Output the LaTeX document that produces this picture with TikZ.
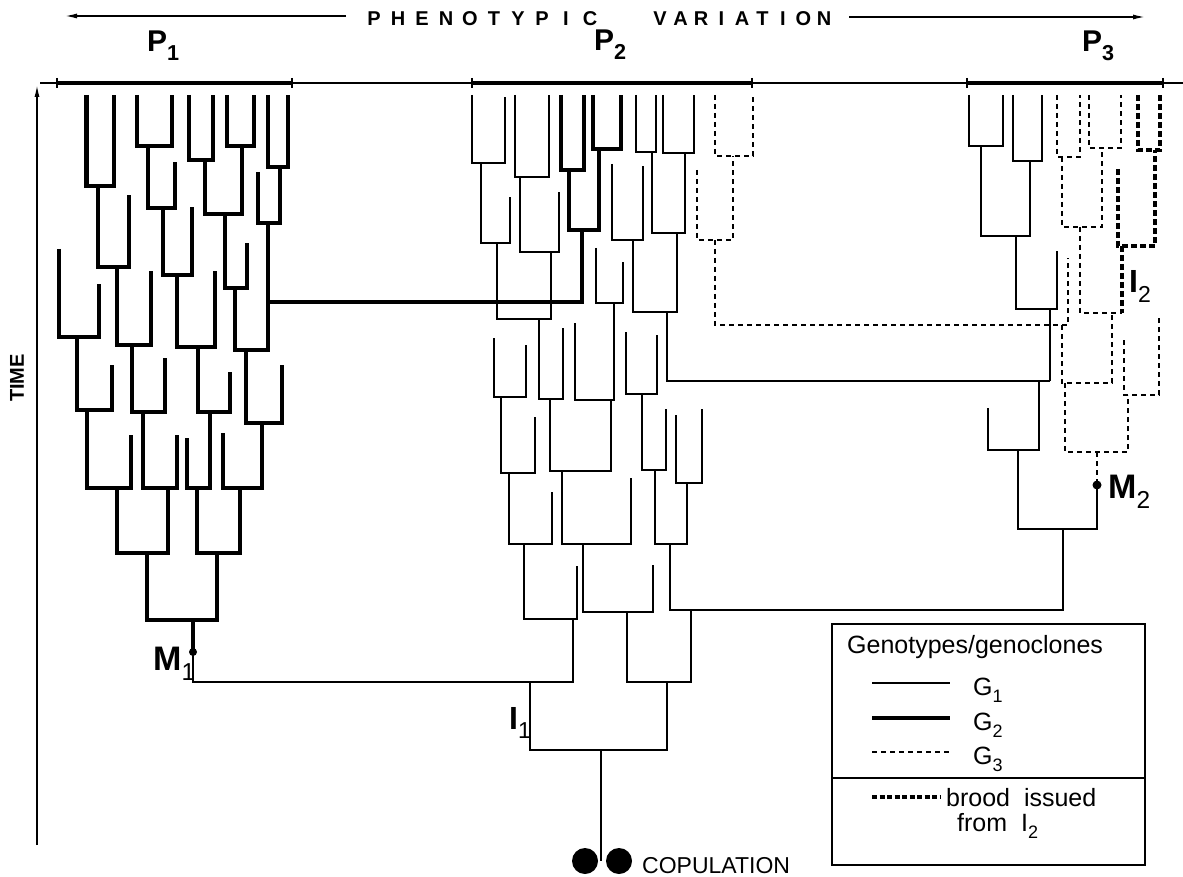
\documentclass[tikz,border=0pt]{standalone}
\usepackage{fontspec}
\usepackage{graphicx}
\setmainfont{Liberation Sans}
\usetikzlibrary{arrows.meta}
% bracket of a genealogy: left arm from (xl,ytl), right arm from (xr,ytr), joined at yb
\newcommand\tbr[6][]{\draw[#1] (#2,#3) -- (#2,#6) -- (#4,#6) -- (#4,#5);}
\newcommand\sub[1]{\raisebox{-0.3em}{\scalebox{0.72}{#1}}}
\begin{document}
\begin{tikzpicture}[x=1pt,y=-1pt,line join=miter,
  g1/.style={line width=1.1pt},
  g2/.style={line width=4.5pt},
  g3/.style={line width=1.3pt,dash pattern=on 5pt off 4pt},
  brood/.style={line width=4.5pt,dash pattern=on 6pt off 3pt},
  axisline/.style={line width=1.4pt},
  pbar/.style={line width=4.5pt},
  tlet/.style={inner sep=0pt,font=\fontsize{20}{20}\selectfont\bfseries},
  plab/.style={inner sep=0pt,anchor=base west,font=\fontsize{30}{30}\selectfont\bfseries},
  mlab/.style={inner sep=0pt,anchor=base west,font=\fontsize{34}{34}\selectfont\bfseries},
  legtext/.style={inner sep=0pt,anchor=base west,font=\fontsize{25}{25}\selectfont}]
\useasboundingbox (0,0) rectangle (1183,877);

% ---- heading: phenotypic variation ----
\foreach \ch [count=\i from 0] in {P,H,E,N,O,T,Y,P,I,C}
  \node[tlet] (ph\i) at (374+24*\i,19) {\ch};
\foreach \ch [count=\i from 0] in {V,A,R,I,A,T,I,O,N}
  \node[tlet] (va\i) at (660+20.5*\i,19) {\ch};
\coordinate (hl0) at (346,16);
\coordinate (hl1) at (65,16);
\coordinate (hr0) at (849,17);
\coordinate (hr1) at (1145,17);
\draw[axisline,-{Latex[length=12pt,width=5pt]}] (hl0) -- (hl1);
\draw[axisline,-{Latex[length=12pt,width=5pt]}] (hr0) -- (hr1);

% ---- phenotype axis with the three ranges ----
\draw[axisline] (40,83) -- (1183,83);
\draw[pbar] (57,83) -- (292,83);
\draw[pbar] (472,83) -- (752,83);
\draw[pbar] (967,83) -- (1163,83);
\foreach \x in {57,292,472,752,967,1163}
  \draw[axisline] (\x,78) -- (\x,88);
\node[plab] (p1lab) at (147,52) {P\sub{1}};
\node[plab] (p2lab) at (594,51) {P\sub{2}};
\node[plab] (p3lab) at (1082,52) {P\sub{3}};

% ---- time axis ----
\coordinate (t0) at (37,845);
\coordinate (t1) at (37,85);
\draw[axisline,-{Latex[length=12pt,width=5pt]}] (t0) -- (t1);
\node[inner sep=0pt,rotate=90,font=\fontsize{20}{20}\selectfont\bfseries] (timelab) at (17,378) {TIME};

% ---- population P1 (genotype G2) ----
\tbr[g2]{86.7}{95}{114}{95}{186}
\tbr[g2]{137}{95}{172}{95}{146}
\tbr[g2]{189}{95}{213}{95}{160}
\tbr[g2]{227}{95}{254}{95}{146}
\tbr[g2]{268}{95}{288}{95}{167}
\tbr[g2]{98}{186}{129}{195}{267}
\tbr[g2]{148}{146}{175}{162}{208}
\tbr[g2]{205}{160}{242}{146}{214}
\tbr[g2]{258}{172}{280}{167}{223}
\tbr[g2]{163}{208}{192}{207}{275}
\tbr[g2]{225}{214}{247}{243}{288}
\tbr[g2]{59}{249}{99}{284}{337}
\tbr[g2]{117}{267}{151}{271}{345}
\tbr[g2]{177}{275}{215}{271}{347}
\tbr[g2]{235}{288}{268}{223}{350}
\tbr[g2]{77}{337}{112}{365}{410}
\tbr[g2]{132}{345}{165}{358}{412}
\tbr[g2]{198}{347}{230}{372}{412}
\tbr[g2]{246}{350}{282}{365}{423}
\tbr[g2]{87}{410}{131}{435}{488}
\tbr[g2]{143}{412}{177}{435}{488}
\tbr[g2]{187}{438}{210}{412}{488}
\tbr[g2]{223}{433}{262}{423}{488}
\tbr[g2]{117}{488}{168}{488}{553}
\tbr[g2]{197}{488}{240}{488}{553}
\tbr[g2]{147}{553}{217}{553}{620}
\draw[g2] (193,620) -- (193,652);

% ---- population P2 ----
\tbr[g1]{472}{95}{505}{97}{163}
\tbr[g1]{515}{95}{549}{95}{177}
\tbr[g1]{636}{95}{656}{95}{152}
\tbr[g1]{663}{95}{694}{95}{153}
\tbr[g1]{481}{163}{510}{197}{243}
\tbr[g1]{520}{177}{559}{192}{252}
\tbr[g1]{497}{243}{551}{252}{319}
\tbr[g1]{596}{248}{623}{262}{303}
\tbr[g1]{612}{164}{643}{166}{240}
\tbr[g1]{652}{152}{685}{153}{233}
\tbr[g1]{633}{240}{677}{233}{312}
\tbr[g1]{494}{338}{526}{345}{397}
\tbr[g1]{539}{319}{563}{328}{399}
\tbr[g1]{575}{323}{614}{303}{400}
\tbr[g1]{626}{332}{657}{335}{394}
\tbr[g1]{501}{397}{535}{417}{473}
\tbr[g1]{550}{399}{611}{400}{471}
\tbr[g1]{642}{394}{666}{409}{470}
\tbr[g1]{676}{415}{702}{409}{483}
\tbr[g1]{509}{473}{552}{492}{544}
\tbr[g1]{562}{471}{631}{478}{544}
\tbr[g1]{655}{470}{687}{483}{544}
\tbr[g1]{524}{544}{577}{566}{619}
\tbr[g1]{583}{544}{653}{565}{612}
\tbr[g1]{627}{612}{691}{610}{682}
\tbr[g1]{530}{682}{667}{682}{750}
% G2 brood inside P2, linked to P1
\tbr[g2]{561}{95}{584}{95}{170}
\tbr[g2]{593}{95}{621}{95}{149}
\tbr[g2]{569}{170}{599}{149}{230}
\draw[g2] (582,230) -- (582,302) -- (268,302);
% G3 brood inside P2, linked to P3
\tbr[g3]{715}{95}{753}{95}{156}
\tbr[g3]{697}{170}{733}{156}{240}
\draw[g3] (715,240) -- (715,325) -- (1068,325) -- (1068,258);
% links from P2 towards P3 and from M1
\draw[g1] (667,312) -- (667,381) -- (1050,381);
\draw[g1] (670,544) -- (670,610) -- (1063,610) -- (1063,529);
\draw[g1] (193,652) -- (193,682) -- (573,682) -- (573,619);

% ---- population P3 ----
\tbr[g1]{969}{95}{1003}{95}{146}
\tbr[g1]{1013}{95}{1042}{95}{161}
\tbr[g1]{981}{146}{1030}{161}{236}
\tbr[g1]{1016}{236}{1057}{251}{309}
\draw[g1] (1050,309) -- (1050,381);
\tbr[g1]{988}{408}{1039}{381}{450}
\tbr[g1]{1018}{450}{1097}{485}{529}
\tbr[g3]{1057}{95}{1080}{95}{157}
\tbr[g3]{1089}{95}{1121}{95}{148}
\tbr[g3]{1062}{157}{1102}{148}{227}
\draw[g3] (1080,227) -- (1080,313) -- (1122,313);
\draw[g3] (1062,325) -- (1062,383) -- (1112,383) -- (1112,313);
\tbr[g3]{1124}{340}{1159}{318}{395}
\tbr[g3]{1065}{383}{1128}{395}{452}
\draw[g3] (1097,452) -- (1097,485);
% brood issued from I2
\tbr[brood]{1138}{95}{1160}{95}{150}
\tbr[brood]{1118}{169}{1155}{150}{246}
\draw[brood] (1122,246) -- (1122,313);

% ---- founders and copulation ----
\fill (193,652) circle (4);
\fill (1097,485) circle (4.5);
\draw[g1] (601,750) -- (601,861);
\fill (585,861) circle (13);
\fill (619,861) circle (13);
\node[inner sep=0pt,anchor=base west,font=\fontsize{23}{23}\selectfont] (coplab) at (642,873) {COPULATION};
\node[mlab] (m1lab) at (153,670) {M\sub{\mdseries 1}};
\node[mlab] (m2lab) at (1108,498) {M\sub{\mdseries 2}};
\node[mlab,font=\fontsize{32}{32}\selectfont\bfseries] (i1lab) at (509,729) {I\sub{\mdseries 1}};
\node[mlab,font=\fontsize{32}{32}\selectfont\bfseries] (i2lab) at (1129,293) {I\sub{\mdseries 2}};

% ---- legend ----
\draw[line width=1.3pt] (832,624) rectangle (1145,865);
\draw[line width=1.3pt] (832,778) -- (1145,778);
\node[legtext] (leghead) at (847,653) {Genotypes/genoclones};
\draw[g1] (872,683) -- (950,683);
\draw[g2] (872,718) -- (950,718);
\draw[g3] (872,752) -- (950,752);
\node[legtext] (legg1) at (973,695) {G\sub{1}};
\node[legtext] (legg2) at (973,730) {G\sub{2}};
\node[legtext] (legg3) at (973,764) {G\sub{3}};
\draw[brood,dash pattern=on 5pt off 2.5pt] (872,797) -- (940,797);
\node[legtext] (legb1) at (946,806) {brood\ \ issued};
\node[legtext] (legb2) at (957,831) {from\ \ I\sub{2}};
\end{tikzpicture}
\end{document}
